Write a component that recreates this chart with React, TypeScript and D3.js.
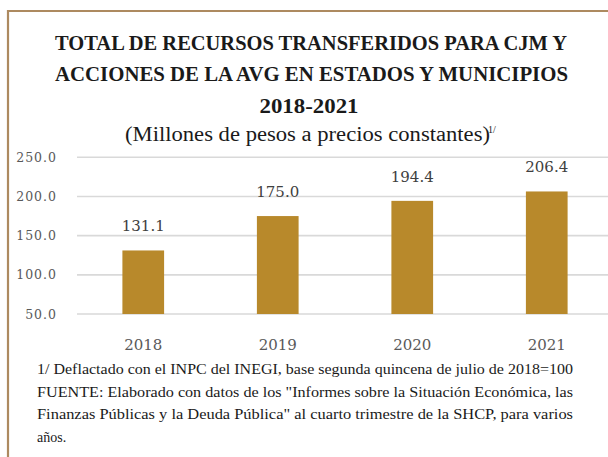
import React from "react";
import * as d3 from "d3";

const years = ["2018", "2019", "2020", "2021"];
const values = [131.1, 175.0, 194.4, 206.4];
const yTicks = [50, 100, 150, 200, 250];
const titleLines = [
  "TOTAL DE RECURSOS TRANSFERIDOS PARA CJM Y",
  "ACCIONES DE LA AVG EN ESTADOS Y MUNICIPIOS",
  "2018-2021",
];
const subtitle = "(Millones de pesos a precios constantes)";
const footnotes = [
  "1/ Deflactado  con el INPC del INEGI, base segunda quincena de julio de 2018=100",
  "FUENTE: Elaborado  con datos de los \"Informes sobre la Situación Económica, las",
  "Finanzas Públicas y la Deuda Pública\" al cuarto trimestre de la SHCP, para varios",
  "años.",
];

const W = 608;
const H = 457;
const TFONT = "Liberation Serif";
const NFONT = "DejaVu Serif";

export default function App() {
  const x = d3
    .scaleBand<string>()
    .domain(years)
    .range([76, 614])
    .paddingInner(0.69)
    .paddingOuter(0.345);
  const y = d3.scaleLinear().domain([50, 250]).range([314, 157.3]);
  const fmt = d3.format(".1f");

  return (
    <svg
      width={W}
      height={H}
      style={{ position: "absolute", left: 0, top: 0, background: "#fff" }}
    >
      <rect x={0} y={0} width={W} height={H} fill="#fff" />
      {/* frame */}
      <line x1={7} x2={W} y1={11} y2={11} stroke="#ad8a60" strokeWidth={2.2} />
      <line x1={8} x2={8} y1={10} y2={H} stroke="#ad8a60" strokeWidth={2.2} />

      {/* title */}
      <text x={55} y={50} fontFamily={TFONT} fontWeight="bold" fontSize={20} fill="#1a1a1a" textLength={512} lengthAdjust="spacingAndGlyphs">
        {titleLines[0]}
      </text>
      <text x={55} y={80.5} fontFamily={TFONT} fontWeight="bold" fontSize={20} fill="#1a1a1a" textLength={513} lengthAdjust="spacingAndGlyphs">
        {titleLines[1]}
      </text>
      <text x={309} y={113} textAnchor="middle" fontFamily={TFONT} fontWeight="bold" fontSize={20.5} fill="#1a1a1a" textLength={99} lengthAdjust="spacingAndGlyphs">
        {titleLines[2]}
      </text>
      <text x={125} y={141} fontFamily={TFONT} fontSize={20} fill="#1a1a1a" textLength={365} lengthAdjust="spacingAndGlyphs">
        {subtitle}
      </text>
      <text x={488} y={133} fontFamily={TFONT} fontSize={10} fill="#1a1a1a">
        1/
      </text>

      {/* gridlines and y ticks */}
      {yTicks.map((t) => (
        <g key={t}>
          <line x1={77} x2={614} y1={y(t)} y2={y(t)} stroke="#d9d9d9" strokeWidth={1.6} />
          <text
            x={57}
            y={y(t)}
            dy="0.36em"
            textAnchor="end"
            fontFamily={NFONT}
            fontSize={12.5}
            letterSpacing={1}
            fill="#595959"
          >
            {fmt(t)}
          </text>
        </g>
      ))}

      {/* bars */}
      {years.map((yr, i) => (
        <g key={yr}>
          <rect
            x={x(yr)}
            y={y(values[i])}
            width={x.bandwidth()}
            height={y(50) - y(values[i])}
            fill="#b8892b"
          />
          <text
            x={(x(yr) as number) + x.bandwidth() / 2}
            y={y(values[i]) - 19}
            textAnchor="middle"
            fontFamily={NFONT}
            fontSize={15}
            fill="#404040"
          >
            {fmt(values[i])}
          </text>
          <text
            x={(x(yr) as number) + x.bandwidth() / 2}
            y={350}
            textAnchor="middle"
            fontFamily={NFONT}
            fontSize={15}
            fill="#595959"
          >
            {yr}
          </text>
        </g>
      ))}

      {/* footnotes */}
      {footnotes.map((f, i) => (
        <text
          key={i}
          x={37}
          y={374 + i * 22.5}
          fontFamily={TFONT}
          fontSize={14}
          fill="#1a1a1a"
          {...(i < 3 ? { textLength: 536, lengthAdjust: "spacingAndGlyphs" } : {})}
        >
          {f}
        </text>
      ))}
    </svg>
  );
}
